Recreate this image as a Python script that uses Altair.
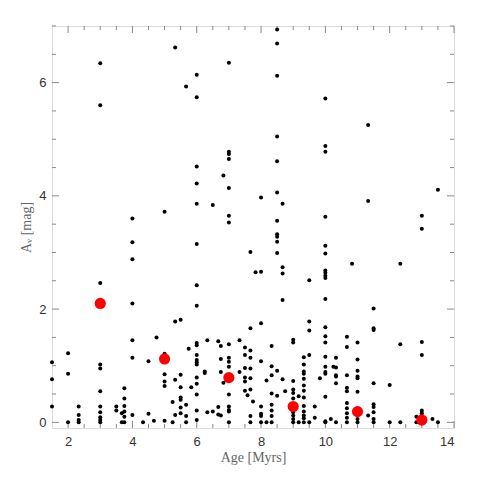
import altair as alt
import pandas as pd

# Individual stars: age (Myr) and extinction A_V (mag)
ages = (
    [1.5]*3 + [2.0]*3 + [2.33]*4 + [3.0]*11 + [3.5]*2 + [3.67]*2 + [3.75]*6 + [4.0]*7
    + [4.33, 4.5, 4.5, 4.67, 4.75] + [5.0]*6 + [5.25]*2 + [5.33]*4 + [5.5]*7
    + [5.67]*4 + [5.75, 5.83] + [6.0]*19 + [6.25]*2 + [6.33]*2 + [6.5]*2
    + [6.67]*3 + [6.75]*4 + [6.83]*2 + [7.0]*16 + [7.33]*2 + [7.5]*6
    + [7.67]*9 + [7.58, 7.75, 7.83] + [8.0]*8 + [8.17]*2 + [8.33]*8
    + [8.5]*13 + [8.67]*5 + [8.75] + [9.0]*10 + [9.17]*2 + [9.33]*13
    + [9.5]*5 + [9.67]*2 + [9.83] + [10.0]*21 + [10.17, 10.25] + [10.33]*6
    + [10.67]*10 + [10.83] + [11.0]*8 + [11.33]*3 + [11.5]*9 + [12.0]*2
    + [12.33]*3 + [13.0]*8 + [12.83]*2 + [13.33] + [13.5]*2
)
av = (
    [1.06, 0.76, 0.28] + [1.22, 0.86, 0.0] + [0.28, 0.13, 0.04, 0.0]
    + [6.34, 5.6, 2.46, 1.02, 0.95, 0.55, 0.28, 0.18, 0.09, 0.04, 0.0]
    + [0.28, 0.21] + [0.16, 0.0] + [0.6, 0.42, 0.29, 0.19, 0.1, 0.0]
    + [3.6, 3.18, 2.88, 2.1, 1.45, 1.14, 0.13]
    + [0.0, 1.08, 0.15, 0.03, 1.5] + [3.72, 1.21, 0.85, 0.72, 0.64, 0.03]
    + [0.36, 0.0] + [6.62, 1.78, 0.75, 0.13]
    + [1.81, 0.84, 0.62, 0.44, 0.4, 0.26, 0.16] + [5.93, 0.31, 0.11, 0.0]
    + [1.3, 0.62]
    + [6.14, 5.74, 4.52, 4.22, 3.86, 3.15, 2.42, 2.06, 1.4, 1.36, 1.19, 1.1,
       1.06, 1.02, 0.79, 0.68, 0.49, 0.21, 0.04]
    + [0.9, 0.87] + [1.45, 0.18] + [3.84, 0.19] + [1.43, 0.27, 0.14]
    + [1.35, 1.12, 0.89, 0.12] + [4.36, 0.7]
    + [6.35, 4.78, 4.74, 4.65, 4.14, 3.65, 3.53, 1.38, 1.14, 1.07, 0.98, 0.49,
       0.28, 0.22, 0.19, 0.0]
    + [1.45, 0.89] + [1.32, 1.19, 0.96, 0.79, 0.72, 0.56]
    + [3.01, 1.66, 1.27, 1.14, 0.95, 0.78, 0.58, 0.11, 0.0] + [0.48, 0.37, 2.65]
    + [3.97, 2.66, 1.75, 1.08, 0.28, 0.15, 0.11, 0.0] + [0.74, 0.0]
    + [1.35, 0.99, 0.83, 0.51, 0.31, 0.21, 0.11, 0.0]
    + [6.94, 6.69, 6.12, 5.05, 4.61, 4.06, 3.56, 3.32, 3.28, 3.19, 2.99, 0.91, 0.47]
    + [3.86, 2.74, 2.63, 2.16, 0.76] + [0.55]
    + [1.46, 1.41, 0.73, 0.58, 0.52, 0.42, 0.18, 0.12, 0.06, 0.0] + [0.46, 0.0]
    + [1.15, 1.02, 0.9, 0.86, 0.77, 0.65, 0.56, 0.44, 0.29, 0.19, 0.12, 0.07, 0.0]
    + [2.51, 1.78, 1.62, 1.19, 0.0] + [0.28, 0.08] + [0.78]
    + [5.72, 4.88, 4.78, 3.63, 3.12, 2.98, 2.68, 2.64, 2.59, 2.55, 2.18, 1.68,
       1.52, 1.41, 1.16, 0.98, 0.89, 0.86, 0.45, 0.02, 0.0]
    + [0.06, 0.98] + [1.14, 0.97, 0.83, 0.81, 0.69, 0.0]
    + [1.51, 1.33, 0.83, 0.61, 0.55, 0.34, 0.25, 0.16, 0.08, 0.0] + [2.8]
    + [1.41, 1.11, 0.91, 0.81, 0.78, 0.54, 0.06, 0.0] + [5.25, 3.91, 0.12]
    + [2.01, 1.66, 1.63, 0.69, 0.32, 0.27, 0.18, 0.06, 0.0] + [0.66, 0.0]
    + [2.8, 1.38, 0.0] + [3.65, 3.42, 1.42, 1.19, 0.21, 0.16, 0.11, 0.0]
    + [0.1, 0.0] + [0.06] + [4.11, 0.0]
)

# Binned medians (red)
bin_ages = [3, 5, 7, 9, 11, 13]
bin_av = [2.1, 1.12, 0.79, 0.28, 0.19, 0.04]

# Tick positions
x_major = [2, 4, 6, 8, 10, 12, 14]
x_minor = [2.5, 3, 3.5, 4.5, 5, 5.5, 6.5, 7, 7.5, 8.5, 9, 9.5, 10.5, 11, 11.5, 12.5, 13, 13.5]
y_major = [0, 2, 4, 6]
y_minor = [0.5, 1, 1.5, 2.5, 3, 3.5, 4.5, 5, 5.5, 6.5, 7]

W, H = 402, 402
MAJ, MIN = 7, 4
AXC = "#888888"

stars = pd.DataFrame({"age": ages, "av": av})
bins = pd.DataFrame({"age": bin_ages, "av": bin_av})

xs = alt.Scale(domain=[1.5, 14], nice=False, zero=False)
ys = alt.Scale(domain=[-0.1, 7], nice=False, zero=False)

xaxis = alt.Axis(title="Age [Myrs]", values=x_major, format="d", ticks=False, domain=False, grid=False,
                 labelFont="Liberation Sans", labelFontSize=13, labelColor="#333333",
                 labelPadding=7, titleFont="Liberation Serif, DejaVu Serif", titleFontSize=14,
                 titleFontWeight="normal", titleColor="#666666", titlePadding=2,
                 minExtent=0)
yaxis = alt.Axis(title="Aᵥ [mag]", values=y_major, format="d", ticks=False, domain=False, grid=False,
                 labelFont="Liberation Sans", labelFontSize=13, labelColor="#333333",
                 labelPadding=6, titleFont="Liberation Serif, DejaVu Serif", titleFontSize=14,
                 titleFontWeight="normal", titleColor="#666666", titlePadding=5,
                 minExtent=0)

black = alt.Chart(stars).mark_circle(color="black", opacity=1, size=16).encode(
    x=alt.X("age:Q", scale=xs, axis=xaxis),
    y=alt.Y("av:Q", scale=ys, axis=yaxis),
)
red = alt.Chart(bins).mark_circle(color="#ff0000", opacity=1, size=125).encode(
    x=alt.X("age:Q", scale=xs),
    y=alt.Y("av:Q", scale=ys),
)

def xticks(vals, ln):
    d = pd.DataFrame({"t": vals})
    base = alt.Chart(d).mark_rule(color=AXC, strokeWidth=1)
    bot = base.encode(x=alt.X("t:Q", scale=xs), y=alt.value(H), y2=alt.value(H - ln))
    top = base.encode(x=alt.X("t:Q", scale=xs), y=alt.value(0), y2=alt.value(ln))
    return [bot, top]

def yticks(vals, ln):
    d = pd.DataFrame({"t": vals})
    base = alt.Chart(d).mark_rule(color=AXC, strokeWidth=1)
    lef = base.encode(y=alt.Y("t:Q", scale=ys), x=alt.value(0), x2=alt.value(ln))
    rig = base.encode(y=alt.Y("t:Q", scale=ys), x=alt.value(W), x2=alt.value(W - ln))
    return [lef, rig]

layers = xticks(x_major, MAJ) + xticks(x_minor, MIN) + yticks(y_major, MAJ) + yticks(y_minor, MIN)

chart = alt.layer(*layers, black, red).properties(
    width=W, height=H,
    padding={"left": 44, "top": 18, "right": 18, "bottom": 46},
    autosize=alt.AutoSizeParams(type="none"),
).configure_view(stroke=AXC, strokeWidth=1).configure(background="white")

chart.save("out.html", embed_options={"renderer": "svg", "actions": False})
